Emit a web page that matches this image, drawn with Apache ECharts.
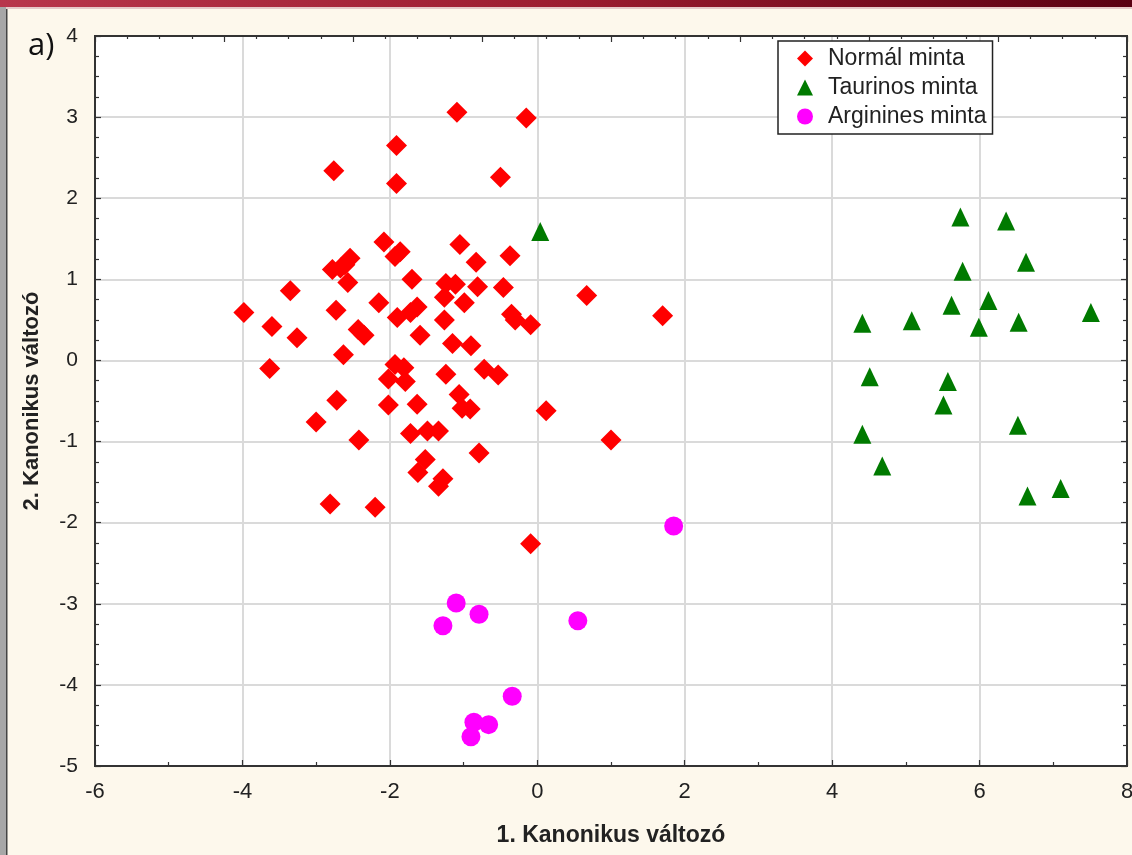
<!DOCTYPE html>
<html>
<head>
<meta charset="utf-8">
<script src="https://cdn.jsdelivr.net/npm/echarts@6/dist/echarts.min.js"></script>
<style>
  html, body { margin: 0; padding: 0; background: #fdf8ec; }
  #chart { width: 1132px; height: 855px; }
</style>
</head>
<body>
<div id="chart"></div>
<script>
// Normál minta  [x, y]
var normalPts = [
  [-3.98, 0.59], [-3.60, 0.42], [-3.63, -0.10], [-3.35, 0.86], [-3.26, 0.28],
  [-3.00, -0.76], [-2.81, -1.77], [-2.76, 2.34], [-2.78, 1.12], [-2.67, 1.14],
  [-2.73, 0.62], [-2.72, -0.49], [-2.63, 0.07], [-2.61, 1.18], [-2.54, 1.26],
  [-2.57, 0.96], [-2.43, 0.38], [-2.35, 0.31], [-2.42, -0.98], [-2.20, -1.81],
  [-2.15, 0.71], [-2.08, 1.46], [-2.02, -0.23], [-2.02, -0.55], [-1.91, 2.65],
  [-1.91, 2.18], [-1.93, 1.28], [-1.86, 1.34], [-1.93, -0.05], [-1.90, 0.53],
  [-1.81, -0.09], [-1.79, -0.26], [-1.72, -0.90], [-1.70, 1.00], [-1.72, 0.59],
  [-1.63, 0.66], [-1.59, 0.31], [-1.63, -0.54], [-1.62, -1.38], [-1.52, -1.22],
  [-1.49, -0.87], [-1.34, -0.87], [-1.34, -1.55], [-1.28, -1.46], [-1.26, 0.50],
  [-1.26, 0.78], [-1.24, 0.95], [-1.24, -0.17], [-1.15, 0.21], [-1.11, 0.94],
  [-1.09, 3.06], [-1.06, -0.42], [-1.02, -0.59], [-1.05, 1.43], [-0.99, 0.71],
  [-0.91, -0.60], [-0.90, 0.18], [-0.83, 1.21], [-0.81, 0.91], [-0.79, -1.14],
  [-0.72, -0.11], [-0.53, -0.18], [-0.50, 2.26], [-0.46, 0.90], [-0.37, 1.29],
  [-0.35, 0.57], [-0.30, 0.50], [-0.15, 2.99], [-0.09, 0.44], [-0.09, -2.26],
  [0.12, -0.62], [0.67, 0.80], [1.00, -0.98], [1.70, 0.55]
];
// Taurinos minta
var taurinPts = [
  [0.04, 1.59], [5.74, 1.77], [6.36, 1.72], [6.63, 1.21], [5.77, 1.10],
  [6.12, 0.74], [5.62, 0.68], [7.51, 0.59], [4.41, 0.46], [5.08, 0.49],
  [5.99, 0.41], [6.53, 0.47], [4.51, -0.20], [5.57, -0.26], [5.51, -0.55],
  [6.52, -0.80], [4.41, -0.91], [4.68, -1.30], [6.65, -1.67], [7.10, -1.58]
];
// Arginines minta
var argininPts = [
  [1.85, -2.04], [-1.10, -2.99], [-0.79, -3.13], [-1.28, -3.27], [0.55, -3.21],
  [-0.34, -4.14], [-0.86, -4.46], [-0.66, -4.49], [-0.90, -4.64]
];
var seriesNames = ['Normál minta', 'Taurinos minta', 'Arginines minta'];
var xTitle = '1. Kanonikus változó';
var yTitle = '2. Kanonikus változó';

var chart = echarts.init(document.getElementById('chart'));

var tickStyle = {color: '#333', width: 1.2};
var narrow = '"Liberation Sans Narrow", "Arial Narrow", "Liberation Sans", sans-serif';
var option = {
  backgroundColor: '#fdf8ec',
  animation: false,
  graphic: [
    {type: 'rect', shape: {x: 0, y: 0, width: 1132, height: 7}, z: 100,
     style: {fill: new echarts.graphic.LinearGradient(0, 0, 1, 0, [
       {offset: 0, color: '#b8364c'}, {offset: 0.5, color: '#9c1c30'}, {offset: 1, color: '#5a0012'}])}},
    {type: 'rect', shape: {x: 0, y: 7, width: 1132, height: 2}, z: 100, style: {fill: '#e6c9c9'}},
    {type: 'rect', shape: {x: 0, y: 7, width: 6, height: 848}, z: 100, style: {fill: '#a7a7a7'}},
    {type: 'rect', shape: {x: 6, y: 9, width: 1.5, height: 846}, z: 100, style: {fill: '#444'}},
    {type: 'text', left: 28, top: 31, z: 100,
     style: {text: 'a)', font: '31px "Open Sans", sans-serif', fill: '#111'}}
  ],
  legend: {
    data: seriesNames,
    orient: 'vertical',
    left: 778,
    top: 41,
    backgroundColor: '#fff',
    borderColor: '#222',
    borderWidth: 1.5,
    borderRadius: 0,
    padding: [6, 6, 6, 19],
    itemGap: 6,
    itemWidth: 16,
    itemHeight: 16,
    textStyle: {fontSize: 23, lineHeight: 22, fontFamily: narrow, color: '#222', padding: [0, 0, 0, 10]}
  },
  grid: {
    left: 95, top: 36, right: 5, bottom: 89,
    outerBoundsMode: 'none',
    show: true, backgroundColor: '#fff', borderColor: '#333', borderWidth: 2,
    containLabel: false
  },
  xAxis: [{
    type: 'value', min: -6, max: 8, interval: 2,
    name: xTitle, nameLocation: 'middle', nameGap: 58,
    nameTextStyle: {fontSize: 23, fontWeight: 'bold', fontFamily: narrow, color: '#222'},
    axisLine: {show: true, onZero: false, lineStyle: {color: '#333', width: 2}},
    axisTick: {show: true, inside: true, length: 6, lineStyle: tickStyle},
    minorTick: {show: true, splitNumber: 2, length: 4, lineStyle: tickStyle},
    axisLabel: {fontSize: 22, margin: 15, color: '#222', fontFamily: narrow},
    splitLine: {show: true, lineStyle: {color: '#dadada', width: 2}}
  }, {
    type: 'value', position: 'top', min: 0, max: 8, interval: 1,
    axisLine: {show: true, onZero: false, lineStyle: {color: '#333', width: 2}},
    axisTick: {show: true, inside: true, length: 6, lineStyle: tickStyle},
    minorTick: {show: true, splitNumber: 4, length: 3, lineStyle: tickStyle},
    axisLabel: {show: false},
    splitLine: {show: false}
  }],
  yAxis: [{
    type: 'value', min: -5, max: 4, interval: 1,
    name: yTitle, nameLocation: 'middle', nameGap: 52, nameRotate: 90,
    nameTextStyle: {fontSize: 22, fontWeight: 'bold', fontFamily: narrow, color: '#222'},
    axisLine: {show: true, onZero: false, lineStyle: {color: '#333', width: 2}},
    axisTick: {show: true, inside: true, length: 6, lineStyle: tickStyle},
    minorTick: {show: true, splitNumber: 4, length: 4, lineStyle: tickStyle},
    axisLabel: {fontSize: 21, margin: 17, color: '#222', fontFamily: narrow},
    splitLine: {show: true, lineStyle: {color: '#dadada', width: 2}}
  }, {
    type: 'value', position: 'right', min: -5, max: 4, interval: 1,
    axisLine: {show: true, onZero: false, lineStyle: {color: '#333', width: 2}},
    axisTick: {show: true, inside: true, length: 6, lineStyle: tickStyle},
    minorTick: {show: true, splitNumber: 4, length: 4, lineStyle: tickStyle},
    axisLabel: {show: false},
    splitLine: {show: false}
  }],
  series: [
    {name: seriesNames[0], type: 'scatter', xAxisIndex: 0, yAxisIndex: 0, data: normalPts,
     symbol: 'diamond', symbolSize: [21, 21], itemStyle: {color: '#ff0000', opacity: 1}},
    {name: seriesNames[1], type: 'scatter', xAxisIndex: 0, yAxisIndex: 0, data: taurinPts,
     symbol: 'triangle', symbolSize: [18, 19], itemStyle: {color: '#007a00', opacity: 1}},
    {name: seriesNames[2], type: 'scatter', xAxisIndex: 0, yAxisIndex: 0, data: argininPts,
     symbol: 'circle', symbolSize: 19, itemStyle: {color: '#ff00ff', opacity: 1}}
  ]
};
chart.setOption(option);
</script>
</body>
</html>
